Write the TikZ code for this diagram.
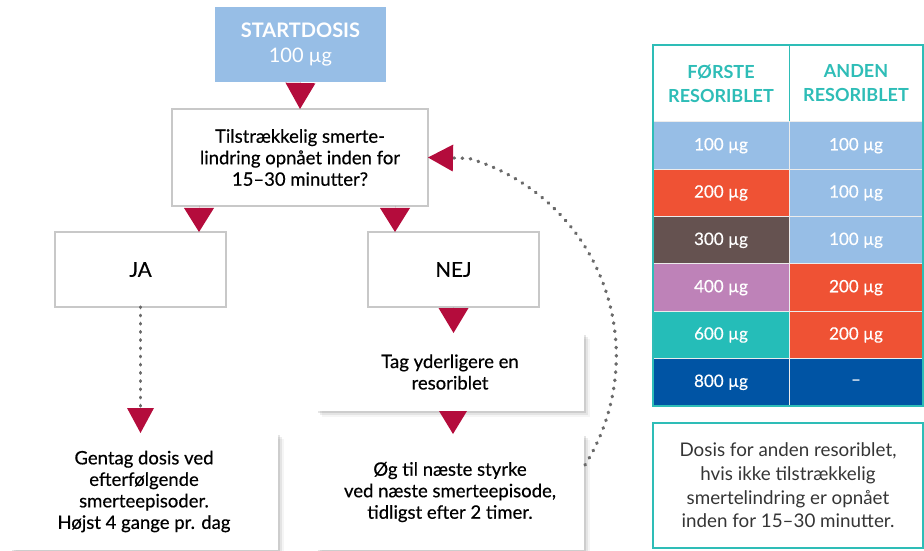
\documentclass[tikz,border=0pt]{standalone}
\usepackage{fontspec}
\setmainfont{Lato}
\newfontfamily\flowfont{Lato}[FakeBold=0.45]
\usetikzlibrary{shapes}
\usetikzlibrary{arrows.meta}
\usetikzlibrary{shadows}
\definecolor{startblue}{HTML}{97BEE6}
\definecolor{tipred}{HTML}{B40C3C}
\definecolor{boxgray}{HTML}{C8C8C8}
\definecolor{dotgray}{HTML}{6A6A6A}
\definecolor{tabteal}{HTML}{2EBDB7}
\definecolor{cellred}{HTML}{EF5234}
\definecolor{cellbrown}{HTML}{655250}
\definecolor{cellmauve}{HTML}{BE82B8}
\definecolor{cellteal}{HTML}{25BDB8}
\definecolor{cellblue}{HTML}{0054A4}
\definecolor{notegray}{HTML}{353535}
\tikzset{
	flownode/.style = {
		align=center,
		inner sep=0pt,
		outer sep=0pt,
		text centered,
		rectangle,
		font=\flowfont\fontsize{18.5}{21.5}\selectfont
	},
	node_start/.style = {
		flownode,
		fill=startblue,
		text=white,
		font=\fontsize{20}{25}\selectfont,
		minimum width=171pt,
		minimum height=75pt
	},
	node_q/.style = {
		flownode,
		fill=white,
		draw=boxgray,
		line width=2pt
	},
	node_answer/.style = {
		node_q,
		font=\flowfont\fontsize{20.5}{21}\selectfont,
		minimum width=171pt,
		minimum height=75pt
	},
	node_step/.style = {
		flownode,
		fill=white,
		minimum width=268pt,
		drop shadow={shadow xshift=1.5pt, shadow yshift=-1.5pt, opacity=0.10, fill=black},
		drop shadow={shadow xshift=3.5pt, shadow yshift=-3.5pt, opacity=0.07, fill=black},
		drop shadow={shadow xshift=6pt, shadow yshift=-6pt, opacity=0.04, fill=black}
	},
	node_link/.style = {
		-{Triangle[width=30pt,length=#1,line width=0pt]},
		draw=tipred,
		line width=0.01pt
	},
	node_dots/.style = {
		-{Triangle[width=27pt,length=25pt,line width=0pt,color=tipred]},
		draw=dotgray,
		line width=3.4pt,
		line cap=round,
		dash pattern=on 0.6pt off 7.6pt
	},
	node_head/.style = {
		flownode,
		fill=white,
		draw=tabteal,
		line width=1pt,
		text=tabteal,
		font=\fontsize{18}{24}\selectfont\bfseries,
		minimum height=77pt
	},
	node_cell/.style = {
		flownode,
		draw=white!85!gray,
		line width=1pt,
		text=white,
		font=\flowfont\fontsize{17}{20}\selectfont,
		minimum height=47.33pt
	},
	node_note/.style = {
		flownode,
		draw=tabteal,
		line width=2pt,
		text=notegray,
		font=\fontsize{18.8}{23.7}\selectfont,
		minimum width=270pt,
		minimum height=125pt
	}
}
\begin{document}
\begin{tikzpicture}[x=1pt,y=1pt]
\useasboundingbox (0,0) rectangle (924,550);
\node [node_start] (start) at (300.5,505.5) {{\bfseries STARTDOSIS}\\100 µg};
\node [node_q, minimum width=256pt, minimum height=97pt] (quest) at (300,392.5) {Tilstrækkelig smerte-\\lindring opnået inden for\\15–30 minutter?};
\node [node_answer] (ja) at (140.5,280.5) {JA};
\node [node_answer] (nej) at (453.5,280.5) {NEJ};
\node [node_step, minimum height=78pt] (tag) at (450,178) {Tag yderligere en\\resoriblet};
\node [node_step, minimum height=116pt] (og) at (450,58) {Øg til næste styrke\\ved næste smerteepisode,\\tidligst efter 2 timer.};
\node [node_step, minimum height=117pt] (gentag) at (144,58.5) {Gentag dosis ved\\efterfølgende\\smerteepisoder.\\Højst 4 gange pr. dag};
\draw [node_link=26pt] (start.south) -- (quest.north);
\draw [node_link=24pt] ([xshift=-101pt]quest.south) -- ([xshift=-101pt]quest.south |- ja.north);
\draw [node_link=24pt] ([xshift=95pt]quest.south) -- ([xshift=95pt]quest.south |- nej.north);
\draw [node_link=25pt] (nej.south) -- (nej.south |- tag.north);
\draw [node_link=23pt, -{Triangle[width=28pt,length=23pt,line width=0pt]}] ([xshift=3pt]tag.south) -- ([xshift=3pt]tag.south |- og.north);
\draw [node_dots] (ja.south) -- (ja.south |- gentag.north);
\draw [node_dots] ([xshift=1pt,yshift=27pt]og.east) arc[start angle=-32, end angle=73.5, radius=206pt] -- (quest.east);
\node [node_head, minimum width=136pt] (head1) at (721,466.5) {FØRSTE\\RESORIBLET};
\node [node_head, minimum width=134pt] (head2) at (856,466.5) {ANDEN\\RESORIBLET};
\foreach \first/\second/\cfirst/\csecond [count=\i] in {100 µg/100 µg/startblue/startblue, 200 µg/100 µg/cellred/startblue, 300 µg/100 µg/cellbrown/startblue, 400 µg/200 µg/cellmauve/cellred, 600 µg/200 µg/cellteal/cellred, 800 µg/–/cellblue/cellblue}
{
	\node [node_cell, fill=\cfirst, minimum width=136pt] (first\i) at (721,428-47.33*\i+23.665) {\first};
	\node [node_cell, fill=\csecond, minimum width=134pt] (second\i) at (856,428-47.33*\i+23.665) {\second};
}
\draw [tabteal, line width=2.5pt] (head1.north west) rectangle (second6.south east);
\node [node_note] (note) at (788,64.5) {Dosis for anden resoriblet,\\hvis ikke tilstrækkelig\\smertelindring er opnået\\inden for 15–30 minutter.};
\end{tikzpicture}
\end{document}
